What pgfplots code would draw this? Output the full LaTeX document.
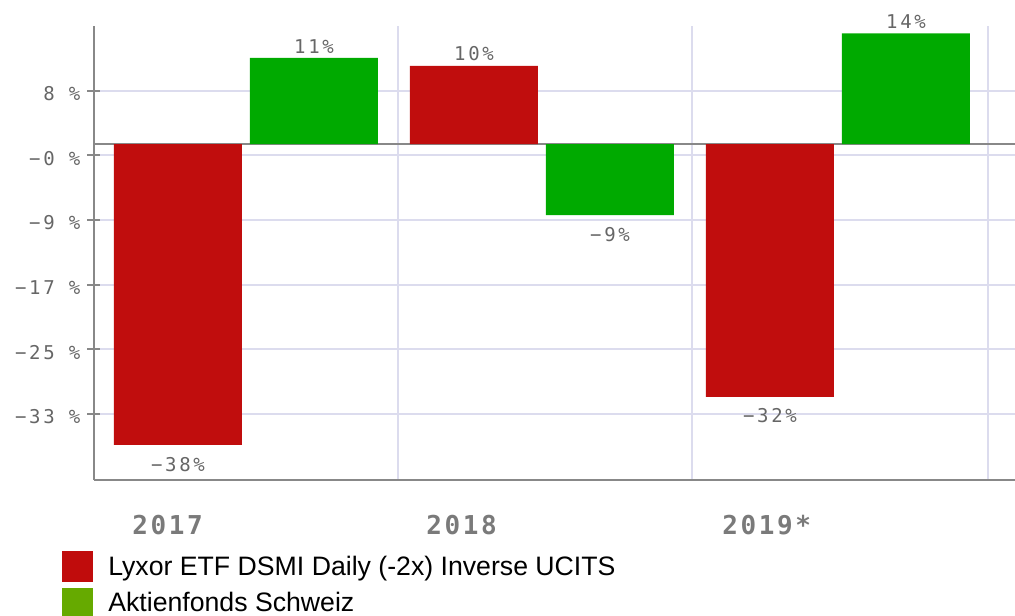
\documentclass[border=0pt]{standalone}
\usepackage{fontspec}
\setmainfont{Liberation Sans}
\newfontfamily\monofont[LetterSpace=14]{DejaVu Sans Mono}
\newfontfamily\yearfont[LetterSpace=10]{DejaVu Sans Mono}
\usepackage{pgfplots}
\pgfplotsset{compat=1.18}
\definecolor{barred}{HTML}{C00D0D}
\definecolor{bargreen}{HTML}{00AA00}
\definecolor{legred}{HTML}{C00C0C}
\definecolor{leggreen}{HTML}{66AA00}
\definecolor{gridc}{HTML}{DCDCEE}
\definecolor{axisc}{HTML}{888888}
\definecolor{labc}{HTML}{666666}
\definecolor{yearc}{HTML}{7A7A7A}
\begin{document}
\begin{tikzpicture}
\path[use as bounding box] (0,0) rectangle (761.25pt,462pt);
\begin{axis}[
  at={(70.5pt,102pt)}, anchor=south west,
  width=690.75pt, height=340.5pt, scale only axis,
  xmin=-0.5135, xmax=2.598, ymin=-42.53, ymax=14.94,
  axis x line*=bottom, axis y line*=left,
  axis line style={axisc, line width=1.5pt, -},
  ybar,
  xtick={0.5135,1.507,2.507},
  xticklabels={2017,2018,2019*},
  xticklabel style={anchor=north west, inner sep=0pt, xshift=-199.5pt, yshift=-21pt,
    font=\yearfont\bfseries\fontsize{19.5}{22}\selectfont, text=yearc},
  xtick style={draw=none},
  ytick={6.75,-1.44,-9.62,-17.81,-25.98,-34.18},
  yticklabels={8 \%,−0 \%,−9 \%,−17 \%,−25 \%,−33 \%},
  yticklabel style={anchor=east, inner sep=0pt, xshift=-5.25pt, yshift=-2.25pt,
    font=\monofont\fontsize{14.25}{16}\selectfont, text=labc},
  ytick style={axisc, line width=1.5pt},
  major tick length=9.75pt, tick align=center,
  xmajorgrids, ymajorgrids,
  grid style={gridc, line width=1.5pt},
  extra y ticks={0}, extra y tick labels={},
  extra y tick style={grid style={axisc, line width=1.5pt}, major tick length=0pt},
  nodes near coords, point meta=explicit symbolic,
  visualization depends on={rawy \as \rawy},
  every node near coord/.append style={font=\monofont\fontsize{14.25}{16}\selectfont, text=labc,
    text height=15pt, anchor=south, yshift={(\rawy<0)*(-23.25)}},
  legend style={at={(axis description cs:-0.0347,-0.1564)}, anchor=north west, draw=none, fill=none,
    inner sep=0pt, font=\fontsize{20}{24}\selectfont, row sep=4pt, column sep=11.25pt,
    nodes={inner sep=0pt, anchor=west}},
  legend cell align=left,
]
\addplot[fill=barred, draw=none, bar width=96pt, bar shift=-51pt,
  legend image code/.code={\fill[legred] (0pt,-11.625pt) rectangle (23.25pt,11.625pt);}]
  coordinates {(0,-38.1)[−38\%] (1,9.9)[10\%] (2,-32.0)[−32\%]};
\addplot[fill=bargreen, draw=none, bar width=96pt, bar shift=51pt,
  legend image code/.code={\fill[leggreen] (0pt,-11.625pt) rectangle (23.25pt,11.625pt);}]
  coordinates {(0,10.9)[11\%] (1,-9.0)[−9\%] (2,14.0)[14\%]};
\legend{Lyxor ETF DSMI Daily (-2x) Inverse UCITS, Aktienfonds Schweiz}
\end{axis}
\end{tikzpicture}
\end{document}
